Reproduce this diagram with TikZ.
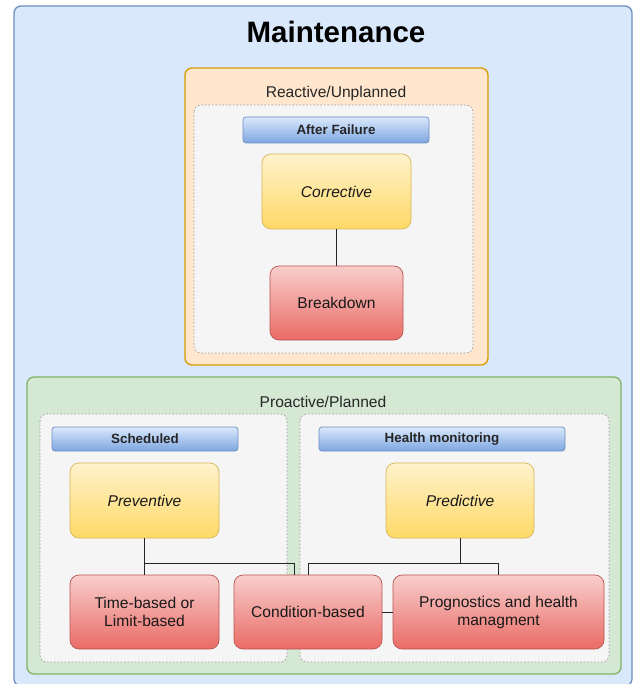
\documentclass[tikz,border=0pt]{standalone}
\usepackage{fontspec}
\setmainfont{Liberation Sans}
\definecolor{bluefill}{HTML}{DAE8FC}
\definecolor{bluestroke}{HTML}{6C8EBF}
\definecolor{barbot}{HTML}{7EA6E0}
\definecolor{orfill}{HTML}{FFE6CC}
\definecolor{orstroke}{HTML}{D79B00}
\definecolor{grfill}{HTML}{D5E8D4}
\definecolor{grstroke}{HTML}{82B366}
\definecolor{panelfill}{HTML}{F5F5F5}
\definecolor{panelstroke}{HTML}{999999}
\definecolor{ytop}{HTML}{FFF2CC}
\definecolor{ybot}{HTML}{FFD966}
\definecolor{ystroke}{HTML}{D6B656}
\definecolor{rtop}{HTML}{F8CECC}
\definecolor{rbot}{HTML}{EA6B66}
\definecolor{rstroke}{HTML}{B85450}
\tikzset{
  container/.style={rounded corners=7pt, line width=1.3pt},
  panel/.style={rounded corners=7pt, fill=panelfill, draw=panelstroke, line width=0.7pt, dash pattern=on 1.5pt off 2pt},
  bar/.style={draw=bluestroke, top color=bluefill, bottom color=barbot, rounded corners=3pt, line width=0.7pt,
    font=\fontsize{13.4}{15}\selectfont\bfseries, text=black!85, inner sep=0pt},
  ybox/.style={draw=ystroke, top color=ytop, bottom color=ybot, rounded corners=9pt, line width=0.7pt,
    font=\fontsize{15.6}{18}\selectfont\itshape, text=black!90, inner sep=0pt},
  rbox/.style={draw=rstroke, top color=rtop, bottom color=rbot, rounded corners=9pt, line width=0.7pt,
    font=\fontsize{15.6}{18}\selectfont, text=black!90, align=center, inner sep=0pt},
  title/.style={font=\fontsize{15.6}{18}\selectfont, text=black!85},
  link/.style={line width=1pt, black!85}
}
\begin{document}
\begin{tikzpicture}[x=1pt,y=-1pt]
\useasboundingbox (0,0) rectangle (636,684);
% outer container
\draw[container, fill=bluefill, draw=bluestroke] (14,6) rectangle (632,686);
\node[font=\fontsize{29.5}{32}\selectfont\bfseries] (maint) at (336,32) {Maintenance};
% reactive container
\draw[container, fill=orfill, draw=orstroke] (185,68) rectangle (488,365);
\node[title] (reactive) at (336,93) {Reactive/Unplanned};
\draw[panel] (194,105) rectangle (473,353);
\node[bar, minimum width=186pt, minimum height=26pt] (after) at (336,130) {After Failure};
\node[ybox, minimum width=149pt, minimum height=75pt] (corr) at (336.5,191.5) {Corrective};
\node[rbox, minimum width=133pt, minimum height=74pt] (brk) at (336.5,303) {Breakdown};
\draw[link] (corr) -- (brk);
% proactive container
\draw[container, fill=grfill, draw=grstroke] (27,377) rectangle (621,674);
\node[title] (proactive) at (323,402) {Proactive/Planned};
\draw[panel] (40,414) rectangle (287,662);
\draw[panel] (300,414) rectangle (609,662);
\node[bar, minimum width=186pt, minimum height=24pt] (sched) at (145,439) {Scheduled};
\node[bar, minimum width=246pt, minimum height=24pt] (health) at (442,439) {Health monitoring};
\node[ybox, minimum width=149pt, minimum height=75pt] (prev) at (144.5,500.5) {Preventive};
\node[ybox, minimum width=148pt, minimum height=75pt] (pred) at (460,500.5) {Predictive};
\node[rbox, minimum width=149pt, minimum height=74pt] (time) at (144.5,612) {Time-based or\\Limit-based};
\node[rbox, minimum width=148pt, minimum height=74pt] (cond) at (308,612) {Condition-based};
\node[rbox, minimum width=211pt, minimum height=74pt] (prog) at (498.5,612) {Prognostics and health\\managment};
\coordinate (cj) at ([xshift=-14pt]cond.north);
\draw[link] (prev.south) -- (prev.south |- time.north);
\draw[link] (prev.south) -- ++(0,25) -| (cj);
\draw[link] (pred.south) -- ++(0,25) coordinate (pj);
\draw[link] (pj) -| (cond.north);
\draw[link] (pj) -| (prog.north);
\draw[link] (cond.east) -- (prog.west);
\end{tikzpicture}
\end{document}
